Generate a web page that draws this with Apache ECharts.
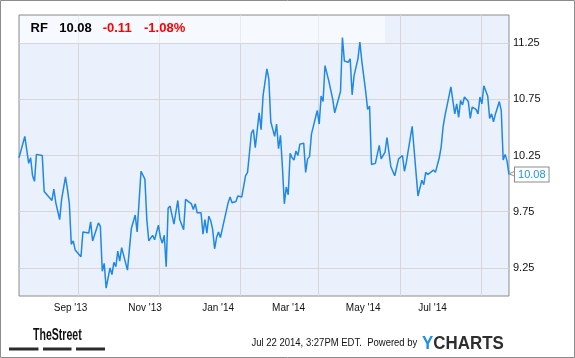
<!DOCTYPE html>
<html><head><meta charset="utf-8">
<script src="https://cdn.jsdelivr.net/npm/echarts@6/dist/echarts.min.js"></script>
<style>html,body{margin:0;padding:0;background:#fff}#c{width:575px;height:358px}</style>
</head><body><div id="c"></div>
<script>
// Header quote
const ticker = 'RF';
const lastPrice = '10.08';
const priceChange = '-0.11';
const pctChange = '-1.08%';
const footerText = 'Jul 22 2014, 3:27PM EDT.  Powered by';

// Trading-day index (0 = Jul 22 2013) and closing price
const tradingDay = [0,3,4,5,6,7,8,9,12,13,14,17,18,19,20,21,22,23,24,25,26,27,28,29,32,33,34,36,37,38,41,42,43,44,45,47,48,49,50,51,52,53,56,58,60,61,63,65,66,67,69,70,72,73,74,75,76,77,78,80,82,83,85,86,89,90,91,92,94,95,96,97,98,99,100,101,102,103,104,105,106,108,109,110,112,113,115,117,118,120,121,122,124,125,126,128,129,130,132,133,134,135,136,137,138,139,140,141,142,143,144,145,147,148,149,150,151,152,154,155,156,157,158,160,162,163,166,167,168,170,171,172,173,175,176,177,179,180,181,182,184,186,187,189,190,192,194,196,198,199,200,203,206,208,209,210,211,214,215,217,218,219,220,223,224,225,226,227,228,229,230,232,233,234,236,237,238,239,240,242,243,244,245,246,247,248,249,250,251,252,253];
const closePrice = [10.23,10.42,10.42,10.18,10.23,10.07,10.02,10.26,10.25,9.93,9.93,9.85,9.95,9.83,9.84,9.68,9.86,9.85,10.06,9.95,9.82,9.46,9.49,9.41,9.35,9.57,9.56,9.56,9.66,9.49,9.65,9.62,9.22,9.29,9.07,9.25,9.19,9.30,9.26,9.40,9.31,9.43,9.23,9.60,9.72,9.57,10.11,10.04,9.68,9.49,9.54,9.50,9.63,9.52,9.47,9.54,9.26,9.78,9.80,9.64,9.85,9.68,9.59,9.86,9.82,9.77,9.82,9.74,9.74,9.55,9.68,9.56,9.71,9.67,9.59,9.42,9.52,9.57,9.52,9.60,9.60,9.83,9.88,9.83,9.84,9.89,9.88,10.07,10.10,10.45,10.48,10.32,10.63,10.48,10.78,11.02,10.93,10.55,10.42,10.53,10.31,10.43,10.15,9.82,9.97,9.90,10.27,10.23,10.21,10.29,10.25,10.35,10.36,10.10,10.22,10.24,10.44,10.45,10.65,10.53,10.78,10.73,11.05,10.91,10.75,10.63,10.82,11.30,11.09,11.08,11.11,10.79,10.96,11.11,11.26,11.09,10.82,10.66,10.69,10.17,10.18,10.34,10.22,10.28,10.41,10.15,10.07,10.22,10.25,10.11,10.19,10.51,9.89,10.03,9.99,10.10,10.08,10.12,10.10,10.23,10.33,10.51,10.61,10.86,10.86,10.62,10.71,10.59,10.74,10.70,10.77,10.73,10.58,10.68,10.66,10.62,10.77,10.71,10.87,10.78,10.58,10.62,10.55,10.62,10.63,10.73,10.65,10.21,10.26,10.20,10.08];

// Axes
const xMin = 0, xMax = 253;
const monthGridDays = [30.5, 72.5, 114, 154.5, 197, 238.5];
const monthLabelDays = [26.6, 65.1, 102.8, 139.2, 177.7, 213.5];
const monthLabels = ["Sep '13", "Nov '13", "Jan '14", "Mar '14", "May '14", "Jul '14"];
const yMin = 9, yMax = 11.5;
const yTicks = [9.25, 9.75, 10.25, 10.75, 11.25];

const lineData = tradingDay.map((d, i) => [d, closePrice[i]]);
const chart = echarts.init(document.getElementById('c'), null, {renderer: 'canvas'});
const FONT = 'Liberation Sans, Arial, sans-serif';

chart.setOption({
  animation: false,
  grid: {left: 19, right: 66, top: 15, bottom: 62, show: true, backgroundColor: '#ebf1fc', borderColor: '#8c8c8c', borderWidth: 1, containLabel: false},
  xAxis: [{
    type: 'value', min: xMin, max: xMax, gridIndex: 0,
    axisLine: {show: false}, axisLabel: {show: false},
    axisTick: {show: false, customValues: monthGridDays},
    splitLine: {show: true, lineStyle: {color: '#d6d6d6', width: 1}}
  }, {
    type: 'value', min: xMin, max: xMax, gridIndex: 0, position: 'bottom',
    axisLine: {show: false}, axisTick: {show: false}, splitLine: {show: false},
    axisLabel: {show: true, customValues: monthLabelDays, margin: 7,
      fontFamily: FONT, fontSize: 10, color: '#111',
      formatter: v => { const i = monthLabelDays.findIndex(d => Math.abs(d - v) < 0.01); return i >= 0 ? monthLabels[i] : ''; }}
  }],
  yAxis: {
    type: 'value', position: 'right', min: yMin, max: yMax,
    axisLine: {show: false},
    axisTick: {show: false, customValues: yTicks},
    splitLine: {show: true, lineStyle: {color: '#d6d6d6', width: 1}},
    axisLabel: {customValues: yTicks, margin: 4, fontFamily: FONT, fontSize: 11, color: '#111',
      formatter: v => Number(v).toFixed(2)}
  },
  graphic: [
    {type: 'rect', z: 2, silent: true, shape: {x: 20, y: 16, width: 365, height: 27}, style: {fill: 'rgba(255,255,255,0.55)'}},
    {type: 'text', z: 5, x: 30.5, y: 28.5, style: {text: ticker, font: 'bold 13px ' + FONT, fill: '#000', verticalAlign: 'middle'}},
    {type: 'text', z: 5, x: 59.3, y: 28.5, style: {text: lastPrice, font: 'bold 13px ' + FONT, fill: '#000', verticalAlign: 'middle'}},
    {type: 'text', z: 5, x: 102.7, y: 28.5, style: {text: priceChange, font: 'bold 13px ' + FONT, fill: '#ff0000', verticalAlign: 'middle'}},
    {type: 'text', z: 5, x: 144, y: 28.5, style: {text: pctChange, font: 'bold 13px ' + FONT, fill: '#ff0000', verticalAlign: 'middle'}},
    {type: 'text', z: 5, x: 33, y: 336, scaleX: 0.66, style: {text: 'TheStreet', font: 'bold 16px ' + FONT, fill: '#111', verticalAlign: 'middle'}},
    {type: 'rect', z: 5, shape: {x: 9, y: 347.5, width: 29.5, height: 3}, style: {fill: '#2b2b2b'}},
    {type: 'rect', z: 5, shape: {x: 43, y: 347.5, width: 28.5, height: 3}, style: {fill: '#2b2b2b'}},
    {type: 'rect', z: 5, shape: {x: 76, y: 347.5, width: 29, height: 3}, style: {fill: '#2b2b2b'}},
    {type: 'text', z: 5, x: 251.5, y: 343.5, scaleX: 0.95, style: {text: footerText, font: '10px ' + FONT, fill: '#111', verticalAlign: 'middle'}},
    {type: 'text', z: 5, x: 422, y: 344, scaleX: 0.89, style: {text: '{y|Y}{c|CHARTS}', verticalAlign: 'middle',
      rich: {y: {font: 'bold 19px ' + FONT, fill: '#1e90e6', color: '#1e90e6'}, c: {font: 'bold 19px ' + FONT, fill: '#2e2e2e', color: '#2e2e2e'}}}},
    {type: 'rect', z: 10, silent: true, shape: {x: 0.5, y: 0.5, width: 574, height: 357}, style: {fill: 'none', stroke: '#8c8c8c', lineWidth: 1}}
  ],
  series: [{
    type: 'line', xAxisIndex: 0, data: lineData, showSymbol: false, z: 3,
    lineStyle: {color: '#1e88e5', width: 1.5}, itemStyle: {color: '#1e88e5'},
    endLabel: {show: true, distance: 0,
      formatter: p => '{a|<}{b|' + p.value[1].toFixed(2) + '}',
      rich: {
        a: {color: '#999', fontSize: 12, fontFamily: FONT, padding: [0, -1, 0, 0]},
        b: {color: '#1e90ff', fontSize: 11, fontFamily: FONT, backgroundColor: '#fff', borderColor: '#8c8c8c', borderWidth: 1, padding: [2, 3, 1, 3]}
      }}
  }]
});
</script></body></html>
